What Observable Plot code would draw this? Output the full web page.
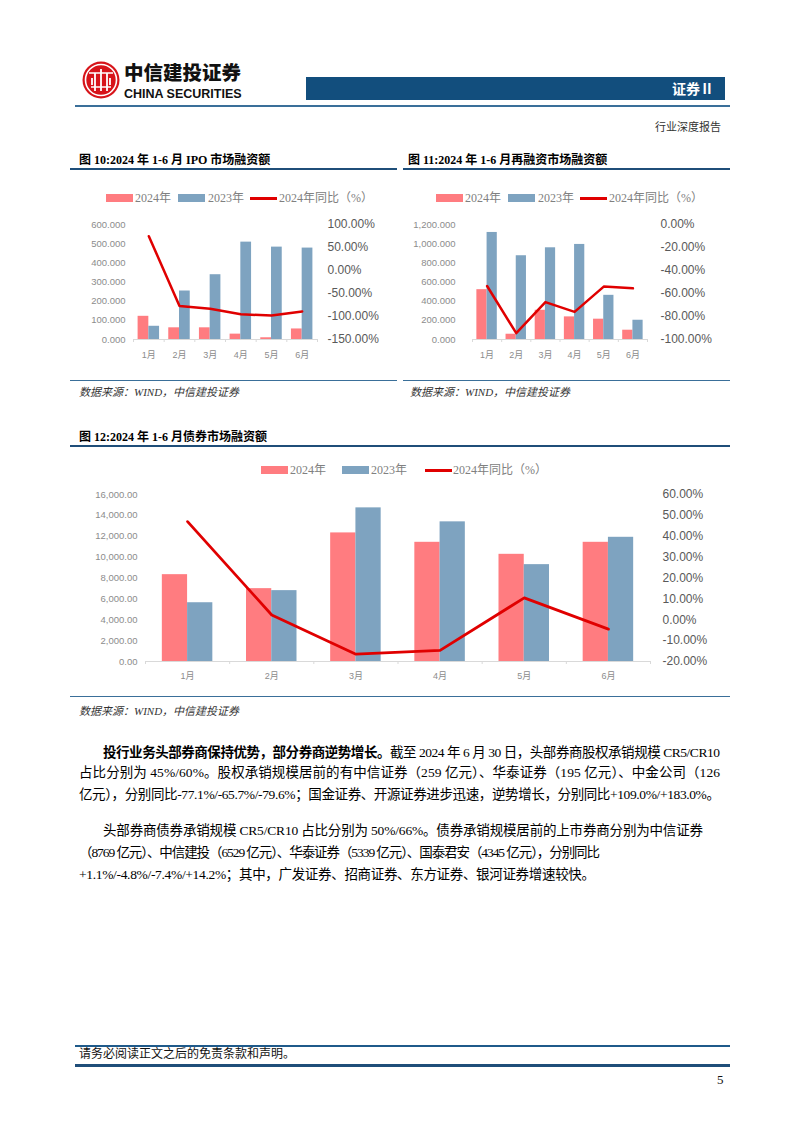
<!DOCTYPE html>
<html><head><meta charset="utf-8">
<script src="https://cdn.jsdelivr.net/npm/d3@7"></script>
<script src="https://cdn.jsdelivr.net/npm/@observablehq/plot@0.6"></script>
<style>
body{margin:0;background:#fff;}
#page{position:relative;width:802px;height:1133px;overflow:hidden;font-family:"Liberation Serif","Noto Sans CJK SC",serif;color:#000;}
.abs{position:absolute;white-space:nowrap;}
.title{font-size:12px;font-weight:bold;line-height:14px;}
.src{font-size:11px;font-style:italic;color:#333;line-height:13px;}
.leg{font-size:12px;color:#808080;line-height:14px;}
.body{font-size:13.5px;line-height:16px;}
</style></head><body><div id="page"></div>
<script>
// ---------- data ----------
const months = ["1月","2月","3月","4月","5月","6月"];
const seriesNames = ["2024年","2023年","2024年同比（%）"];

// 图10 IPO
const ipo2024 = [121, 61, 61, 28, 9, 55];
const ipo2023 = [69, 253, 338, 508, 482, 477];
const ipoYoY  = [74.5, -77, -83, -95, -98, -89];
const ipoLeftTicks = [0,100,200,300,400,500,600];
const ipoRightTicks = [-150,-100,-50,0,50,100];

// 图11 再融资
const refi2024 = [520, 55, 305, 236, 212, 97];
const refi2023 = [1117, 874, 957, 992, 461, 201];
const refiYoY  = [-53.5, -94.5, -67.5, -76, -54, -55.5];
const refiLeftTicks = [0,200,400,600,800,1000,1200];
const refiRightTicks = [-100,-80,-60,-40,-20,0];

// 图12 债券
const bond2024 = [8320, 6980, 12320, 11420, 10270, 11420];
const bond2023 = [5630, 6790, 14720, 13380, 9280, 11900];
const bondYoY  = [47, 2.3, -16.5, -14.7, 10.5, -4.5];
const bondLeftTicks = [0,2000,4000,6000,8000,10000,12000,14000,16000];
const bondRightTicks = [-20,-10,0,10,20,30,40,50,60];

const C24 = "#ff7c80", C23 = "#7ea3c0", RED = "#e00000", NAVY = "#1f4e79";

// ---------- helpers ----------
const page = document.getElementById("page");
function el(tag, cls, style, html){
  const e = document.createElement(tag);
  if (cls) e.className = cls;
  Object.assign(e.style, style || {});
  if (html != null) e.innerHTML = html;
  page.appendChild(e);
  return e;
}
function hline(x, y, w, h, color){ return el("div","abs",{left:x+"px",top:y+"px",width:w+"px",height:h+"px",background:color}); }

function legend(x0, yc, dx){
  el("div","abs",{left:(x0+dx[0])+"px",top:(yc-4)+"px",width:"27px",height:"8px",background:C24});
  el("div","abs leg",{left:(x0+dx[1])+"px",top:(yc-7)+"px"},seriesNames[0]);
  el("div","abs",{left:(x0+dx[2])+"px",top:(yc-4)+"px",width:"27px",height:"8px",background:C23});
  el("div","abs leg",{left:(x0+dx[3])+"px",top:(yc-7)+"px"},seriesNames[1]);
  el("div","abs",{left:(x0+dx[4])+"px",top:(yc-1.5)+"px",width:"27px",height:"3px",background:RED});
  el("div","abs leg",{left:(x0+dx[5])+"px",top:(yc-7)+"px"},seriesNames[2]);
}

function dualChart(o){
  const data = months.map((m,i)=>({i, m, a:o.a[i], b:o.b[i], r:o.r[i]}));
  const toL = v => (v - o.rMin)/(o.rMax - o.rMin)*o.yMax;
  const fromL = v => v/o.yMax*(o.rMax - o.rMin) + o.rMin;
  const fmtR = v => { let x = fromL(v); if (Math.abs(x) < 1e-9) x = 0; return x.toFixed(2) + "%"; };
  const svg = Plot.plot({
    width:o.width, height:o.height,
    marginLeft:o.ml, marginRight:o.mr, marginTop:o.mt, marginBottom:o.mb,
    x:{domain:[-0.5,5.5], axis:null, label:null},
    y:{domain:[0,o.yMax], axis:null, label:null},
    style:{fontFamily:"'Liberation Sans',Arial,'Noto Sans CJK SC',sans-serif", background:"transparent", overflow:"visible"},
    marks:[
      Plot.rect(data,{x1:d=>d.i-o.w, x2:d=>d.i, y1:0, y2:"a", fill:C24}),
      Plot.rect(data,{x1:d=>d.i, x2:d=>d.i+o.w, y1:0, y2:"b", fill:C23}),
      Plot.ruleY([0],{stroke:"#d9d9d9", strokeWidth:1}),
      Plot.axisX({ticks:d3.range(-0.5,6,1), tickFormat:()=>"", tickSize:3, stroke:"#d9d9d9", label:null}),
      Plot.line(data,{x:"i", y:d=>toL(d.r), stroke:RED, strokeWidth:o.lw, strokeLinejoin:"round"}),
      Plot.axisY({ticks:o.lTicks, tickFormat:o.lFmt, tickSize:0, tickPadding:o.lPad, fontSize:9.5, fill:"#8c8c8c", label:null}),
      Plot.axisY({anchor:"right", ticks:o.rTicks.map(toL), tickFormat:fmtR, tickSize:0, tickPadding:o.rPad, fontSize:12, fill:"#595959", label:null}),
      Plot.axisX({ticks:d3.range(6), tickFormat:i=>months[i], tickSize:0, tickPadding:o.xPad, fontSize:9, fill:"#8c8c8c", label:null})
    ]
  });
  const box = el("div","abs",{left:o.left+"px",top:o.top+"px"});
  box.appendChild(svg);
  return svg;
}

// ---------- header ----------
const logo = el("div","abs",{left:"82px",top:"61px"});
logo.innerHTML = `<svg width="38" height="38" viewBox="0 0 38 38">
<circle cx="19" cy="19" r="18.5" fill="#d7141a"/>
<circle cx="19" cy="19" r="15.5" fill="none" stroke="#fff" stroke-width="1.6"/>
<path d="M7 12 H31 M9 26 H29" stroke="#fff" stroke-width="1.6" fill="none"/>
<path d="M13 12 V30 M19 8 V30 M25 12 V30 M10 17 V24 M28 17 V24" stroke="#fff" stroke-width="1.8" fill="none"/>
</svg>`;
el("div","abs",{left:"124px",top:"58px",fontFamily:"'Noto Sans CJK SC',sans-serif",fontWeight:"900",fontSize:"19.5px",lineHeight:"28px",color:"#111"},"中信建投证券");
el("div","abs",{left:"124px",top:"86.5px",fontFamily:"'Liberation Sans',Arial,sans-serif",fontWeight:"bold",fontSize:"12.5px",lineHeight:"15px",color:"#111"},"CHINA SECURITIES");
hline(306, 77, 419, 23, "#124e7d");
el("div","abs",{left:"672px",top:"80px",fontFamily:"'Noto Sans CJK SC',sans-serif",fontWeight:"bold",fontSize:"14px",lineHeight:"17px",color:"#fff"},"证券Ⅱ");
hline(75, 105, 655, 1.5, "#3a6f99");
el("div","abs",{left:"655px",top:"121px",fontSize:"11px",lineHeight:"13px",color:"#333"},"行业深度报告");

// ---------- chart 10 ----------
el("div","abs title",{left:"79px",top:"153px"},"图 10:2024 年 1-6 月 IPO 市场融资额");
hline(70, 168, 327, 1.5, NAVY);
legend(70, 198, [36, 65, 108, 138, 180, 209]);
dualChart({left:70, top:180, width:330, height:195, ml:63, mr:83, mt:44, mb:36,
  a:ipo2024, b:ipo2023, r:ipoYoY, yMax:600, rMin:-150, rMax:100, w:0.35, lw:2.5,
  lTicks:ipoLeftTicks, lFmt:d3.format(",.3f"), lPad:8, rTicks:ipoRightTicks, rPad:10, xPad:12});
hline(70, 380, 327, 1.2, "#3a6f99");
el("div","abs src",{left:"79px",top:"386px"},"数据来源：WIND，中信建投证券");

// ---------- chart 11 ----------
el("div","abs title",{left:"408px",top:"153px"},"图 11:2024 年 1-6 月再融资市场融资额");
hline(403, 168, 327, 1.5, NAVY);
legend(400, 198, [36, 65, 108, 138, 180, 209]);
dualChart({left:400, top:180, width:330, height:195, ml:72, mr:83, mt:44, mb:36,
  a:refi2024, b:refi2023, r:refiYoY, yMax:1200, rMin:-100, rMax:0, w:0.35, lw:2.5,
  lTicks:refiLeftTicks, lFmt:d3.format(",.3f"), lPad:17, rTicks:refiRightTicks, rPad:13, xPad:12});
hline(403, 380, 327, 1.2, "#3a6f99");
el("div","abs src",{left:"410px",top:"386px"},"数据来源：WIND，中信建投证券");

// ---------- chart 12 ----------
el("div","abs title",{left:"79px",top:"430px"},"图 12:2024 年 1-6 月债券市场融资额");
hline(70, 445, 660, 1.5, NAVY);
legend(70, 470, [191, 220, 272, 301, 355, 383]);
dualChart({left:70, top:450, width:660, height:245, ml:75, mr:80, mt:44, mb:34,
  a:bond2024, b:bond2023, r:bondYoY, yMax:16000, rMin:-20, rMax:60, w:0.3, lw:2.8,
  lTicks:bondLeftTicks, lFmt:d3.format(",.2f"), lPad:8, rTicks:bondRightTicks, rPad:12, xPad:11});
hline(70, 696, 660, 1.2, "#3a6f99");
el("div","abs src",{left:"79px",top:"705px"},"数据来源：WIND，中信建投证券");

// ---------- body text ----------
const lines = [
  {x:103, y:751, w:617, t:"<b style='font-family:\"Noto Sans CJK SC\",sans-serif'>投行业务头部券商保持优势，部分券商逆势增长。</b>截至 2024 年 6 月 30 日，头部券商股权承销规模 CR5/CR10"},
  {x:79, y:773, w:641, t:"占比分别为 45%/60%。股权承销规模居前的有中信证券（259 亿元）、华泰证券（195 亿元）、中金公司（126"},
  {x:79, y:795, w:641, t:"亿元），分别同比-77.1%/-65.7%/-79.6%；国金证券、开源证券进步迅速，逆势增长，分别同比+109.0%/+183.0%。"},
  {x:103, y:831, w:600, t:"头部券商债券承销规模 CR5/CR10 占比分别为 50%/66%。债券承销规模居前的上市券商分别为中信证券"},
  {x:79, y:853, w:521, t:"（8769 亿元）、中信建投（6529 亿元）、华泰证券（5339 亿元）、国泰君安（4345 亿元），分别同比"},
  {x:79, y:875, w:516, t:"+1.1%/-4.8%/-7.4%/+14.2%；其中，广发证券、招商证券、东方证券、银河证券增速较快。"}
];
lines.forEach(L => {
  const d = el("div","abs body",{left:L.x+"px",top:(L.y-8)+"px"},L.t);
  const natural = d.getBoundingClientRect().width;
  const n = d.textContent.length;
  const ls = (L.w - natural) / Math.max(1, n - 1);
  d.style.letterSpacing = ls.toFixed(3) + "px";
});

// ---------- footer ----------
hline(75, 1045, 655, 1.5, "#1f5a8a");
el("div","abs",{left:"79px",top:"1047px",fontSize:"12px",lineHeight:"14px",color:"#111"},"请务必阅读正文之后的免责条款和声明。");
hline(75, 1064, 655, 3, NAVY);
el("div","abs",{left:"717px",top:"1072px",fontSize:"13px",lineHeight:"15px",color:"#111"},"5");
</script>
</body></html>
